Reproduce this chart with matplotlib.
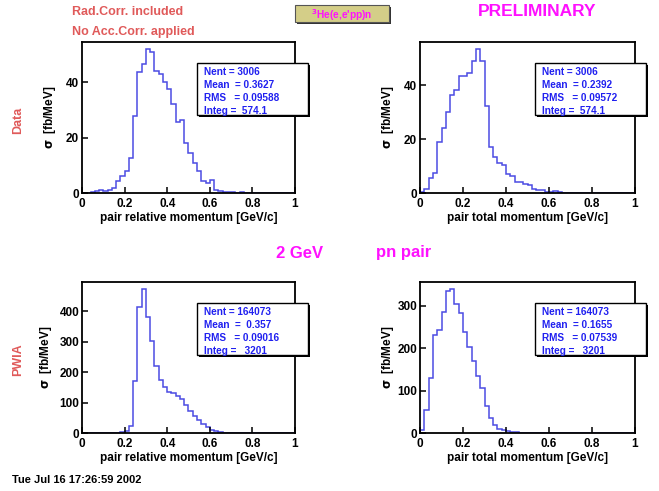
import numpy as np
import matplotlib
matplotlib.use('Agg')
import matplotlib.pyplot as plt
from matplotlib.patches import Rectangle

plt.rcParams['font.family'] = ['Liberation Sans', 'DejaVu Sans']
plt.rcParams['font.weight'] = 'bold'

W, H = 659, 491

# 50 bins, 0 - 1 GeV/c
edges = np.linspace(0, 1, 51)

# Data, pair relative momentum
data_rel = [0, 0.1, 0.3, 0.9, 1, 0.8, 1.1, 1.8, 4.2, 6.2,
            7.8, 12.5, 27.7, 43.6, 46.6, 51.9, 51, 44.2, 43, 40,
            37.6, 32.2, 25.7, 26.3, 17.9, 14.3, 10.7, 7.8, 4.2, 3.6,
            4.8, 1.2, 0.6, 0.4, 0.2, 0.2, 0.1, 0.3, 0.1, 0,
            0, 0, 0, 0, 0, 0, 0, 0, 0, 0]
# Data, pair total momentum
data_tot = [0.3, 1.5, 5.5, 7.5, 19, 24, 30, 36.5, 38.5, 43.5,
            43.5, 44.5, 49, 53.5, 49, 32.5, 17, 13.5, 11, 10.5,
            7, 6.5, 4, 4, 3.5, 3, 1.5, 1.2, 1, 0.5,
            0.3, 0.6, 0.2, 0.1, 0, 0, 0, 0, 0, 0,
            0, 0, 0, 0, 0, 0, 0, 0, 0, 0]
# PWIA, pair relative momentum
pwia_rel = [0, 0, 0.3, 0.5, 0.5, 0.7, 0.8, 1, 1.5, 2,
            5, 22, 170, 416, 473, 380, 301, 219, 175, 151,
            135, 131, 123, 113, 93, 73, 57, 44, 31, 20,
            11, 6.6, 3.3, 1.5, 0.5, 0.2, 0, 0, 0, 0,
            0, 0, 0, 0, 0, 0, 0, 0, 0, 0]
# PWIA, pair total momentum
pwia_tot = [6, 55, 130, 232, 243, 285, 334, 339, 305, 283,
            237, 202, 170, 134, 105, 63, 35, 18, 10, 6,
            4, 2.5, 1.5, 1, 0.5, 0.3, 0.2, 0.1, 0, 0,
            0, 0, 0, 0, 0, 0, 0, 0, 0, 0,
            0, 0, 0, 0, 0, 0, 0, 0, 0, 0]

stats_data_rel = ["Nent = 3006", "Mean  = 0.3627", "RMS   = 0.09588", "Integ =  574.1"]
stats_data_tot = ["Nent = 3006", "Mean  = 0.2392", "RMS   = 0.09572", "Integ =  574.1"]
stats_pwia_rel = ["Nent = 164073", "Mean  =  0.357", "RMS   = 0.09016", "Integ =   3201"]
stats_pwia_tot = ["Nent = 164073", "Mean  = 0.1655", "RMS   = 0.07539", "Integ =   3201"]

xticks = [0, 0.2, 0.4, 0.6, 0.8, 1]
xtick_labels = ['0', '0.2', '0.4', '0.6', '0.8', '1']
yticks_data = [0, 20, 40]
yticks_rel = [0, 100, 200, 300, 400]
yticks_tot = [0, 100, 200, 300]

line_col = '#4b4be3'
stat_col = '#2020f0'
red_col = '#e05a5a'
mag_col = '#ff10ff'


def fx(px):
    return px / W


def fy(py):
    return 1 - py / H


fig = plt.figure(figsize=(W / 100, H / 100), dpi=100)
fig.patch.set_facecolor('white')

panels = [
    # (values, yticks, xlabel, stats, frame in pixels, ylabel x)
    (data_rel, yticks_data, 'pair relative momentum [GeV/c]', stats_data_rel, (82, 42, 295, 193), 50),
    (data_tot, yticks_data, 'pair total momentum [GeV/c]', stats_data_tot, (420, 42, 635, 193), 388),
    (pwia_rel, yticks_rel, 'pair relative momentum [GeV/c]', stats_pwia_rel, (82, 282, 295, 433), 46),
    (pwia_tot, yticks_tot, 'pair total momentum [GeV/c]', stats_pwia_tot, (420, 282, 635, 433), 388),
]

for vals, yt, xlab, stats, (x0, y0, x1, y1), ylx in panels:
    ax = fig.add_axes([fx(x0), fy(y1), (x1 - x0) / W, (y1 - y0) / H])
    ax.stairs(vals, edges, color=line_col, lw=1.1)
    ax.set_xlim(0, 1)
    ax.set_ylim(0, 1.05 * max(vals))
    ax.set_xticks(xticks)
    ax.set_xticklabels(xtick_labels)
    ax.set_yticks(yt)
    ax.tick_params(direction='in', length=4, width=1.1, labelsize=8.5, pad=2)
    ax.tick_params(axis='x', pad=3.5)
    for s in ax.spines.values():
        s.set_linewidth(1.3)

    # axis titles
    fig.text(fx((x0 + x1) / 2), fy(y1 + 25), xlab, ha='center', va='center', fontsize=8.5)
    fig.text(fx(ylx), fy((y0 + y1) / 2), r'$\mathbf{\sigma}$  [fb/MeV]', rotation=90,
             ha='center', va='center', fontsize=8.5)

    # stats box with shadow
    bx0, by0 = x0 + 115, y0 + 21
    bx1, by1 = bx0 + 111, by0 + 52
    fig.add_artist(Rectangle((fx(bx0 + 2), fy(by1 + 2)), (bx1 - bx0) / W, (by1 - by0) / H,
                             transform=fig.transFigure, facecolor='black', edgecolor='none'))
    fig.add_artist(Rectangle((fx(bx0), fy(by1)), (bx1 - bx0) / W, (by1 - by0) / H,
                             transform=fig.transFigure, facecolor='white', edgecolor='black', lw=1))
    for i, s in enumerate(stats):
        fig.text(fx(bx0 + 7), fy(by0 + 9 + 13 * i), s, ha='left', va='center',
                 fontsize=7.2, color=stat_col)

# header texts
fig.text(fx(72), fy(12), 'Rad.Corr. included', color=red_col, fontsize=9, ha='left', va='center')
fig.text(fx(72), fy(32), 'No Acc.Corr. applied', color=red_col, fontsize=9, ha='left', va='center')
fig.text(fx(537), fy(11), 'PRELIMINARY', color=mag_col, fontsize=12.5, ha='center', va='center')
fig.text(fx(300), fy(253), '2 GeV', color=mag_col, fontsize=12, ha='center', va='center')
fig.text(fx(404), fy(253), 'pn pair', color=mag_col, fontsize=12, ha='center', va='center')
fig.text(fx(18), fy(120), 'Data', color=red_col, fontsize=9, rotation=90, ha='center', va='center')
fig.text(fx(18), fy(360), 'PWIA', color=red_col, fontsize=9, rotation=90, ha='center', va='center')
fig.text(fx(12), fy(480), 'Tue Jul 16 17:26:59 2002', fontsize=8, ha='left', va='center')

# reaction label box
fig.add_artist(Rectangle((fx(297), fy(24)), 94 / W, 17 / H, transform=fig.transFigure,
                         facecolor='#333333', edgecolor='none'))
fig.add_artist(Rectangle((fx(295), fy(22)), 94 / W, 17 / H, transform=fig.transFigure,
                         facecolor='#d4ce88', edgecolor='#555555', lw=0.8))
fig.text(fx(342), fy(15), r"$\mathbf{^3}$He(e,e'pp)n", color=mag_col, fontsize=7.3,
         ha='center', va='center')

fig.savefig('out.png', dpi=100)
